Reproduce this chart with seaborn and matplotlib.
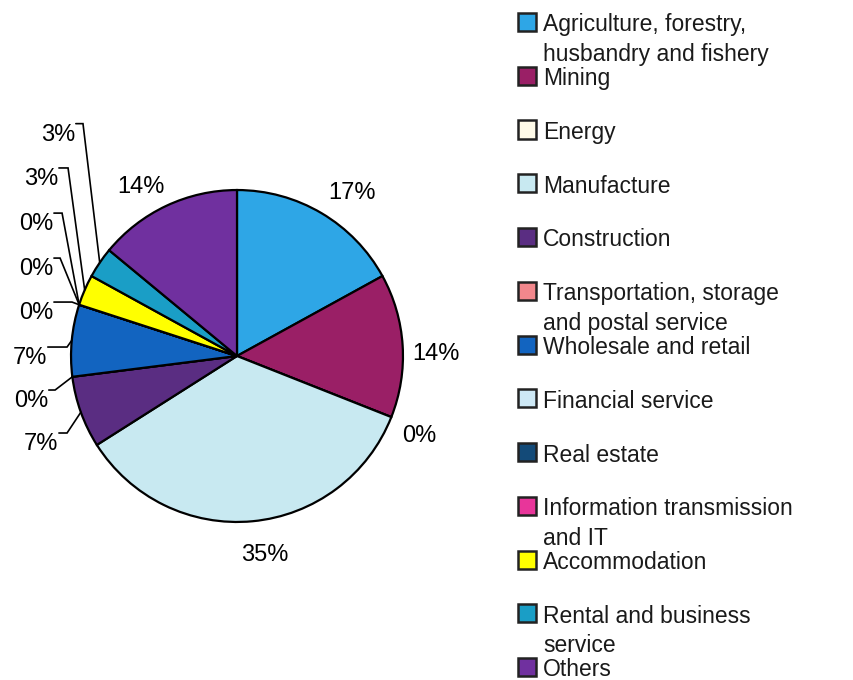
import matplotlib.pyplot as plt
from matplotlib.patches import Rectangle
import numpy as np
import seaborn as sns

# Sector shares (%), legend order
sectors = ['Agriculture, forestry,\nhusbandry and fishery', 'Mining', 'Energy', 'Manufacture',
           'Construction', 'Transportation, storage\nand postal service', 'Wholesale and retail',
           'Financial service', 'Real estate', 'Information transmission\nand IT',
           'Accommodation', 'Rental and business\nservice', 'Others']
shares = [17, 14, 0, 35, 7, 0, 7, 0, 0, 0, 3, 3, 14]
pct_labels = [f'{v}%' for v in shares]
colors = ['#2ea6e6', '#9a1f66', '#fffbe8', '#c8e9f1', '#5a2d82', '#f2878c', '#1264c0',
          '#cde8f5', '#134a78', '#e8359a', '#ffff00', '#1a9ec6', '#70309f']

sns.set_style('white')
plt.rcParams['font.family'] = ['Liberation Sans', 'DejaVu Sans']

W, H = 854, 680
fig = plt.figure(figsize=(W / 100, H / 100), dpi=100)
ax = fig.add_axes([0, 87 / H, 474 / W, 474 / H])
palette = sns.color_palette(colors)
wedges, _ = ax.pie(shares, colors=palette, startangle=90, counterclock=False,
                   wedgeprops=dict(edgecolor='black', linewidth=1.6))
ax.set_xlim(-1.428, 1.428)
ax.set_ylim(-1.428, 1.428)
ax.set_aspect('equal')
ax.axis('off')

# labels placed beside the pie (text centre)
plain_pos = {0: (0.69, 0.98), 1: (1.20, 0.01), 2: (1.10, -0.48),
             3: (0.17, -1.20), 12: (-0.58, 1.02)}
for i, (x, y) in plain_pos.items():
    ax.text(x, y, pct_labels[i], ha='center', va='center', fontsize=17, color='black')

# labels with leader lines: (text right edge, text top, elbow x)
leader_pos = {11: (-0.976, 1.40, -0.928),
              10: (-1.078, 1.133, -1.018),
              9: (-1.108, 0.861, -1.054),
              8: (-1.108, 0.59, -1.066),
              7: (-1.108, 0.325, -0.994),
              6: (-1.145, 0.054, -1.024),
              5: (-1.139, -0.205, -1.096),
              4: (-1.078, -0.464, -1.024)}
for i, (tx, ty, ex) in leader_pos.items():
    w = wedges[i]
    mid = np.deg2rad((w.theta1 + w.theta2) / 2)
    px, py = np.cos(mid), np.sin(mid)
    ax.text(tx, ty, pct_labels[i], ha='right', va='top', fontsize=17, color='black')
    ax.plot([tx + 0.005, ex, px], [ty, ty, py], color='black', lw=1.2,
            solid_joinstyle='miter')

# legend drawn by hand, one entry every ~54 px
for i, (name, c) in enumerate(zip(sectors, colors)):
    yc = 22 + i * 53.75
    fig.add_artist(Rectangle((518 / W, 1 - (yc + 9) / H), 18 / W, 18 / H,
                             transform=fig.transFigure, facecolor=c,
                             edgecolor='#222222', lw=1.8))
    for j, line in enumerate(name.split('\n')):
        fig.text(543 / W, 1 - (yc - 8.5 + j * 29.5) / H, line, ha='left', va='top',
                 fontsize=16.5, color='#1a1a1a')

fig.savefig('out.png', dpi=100)
